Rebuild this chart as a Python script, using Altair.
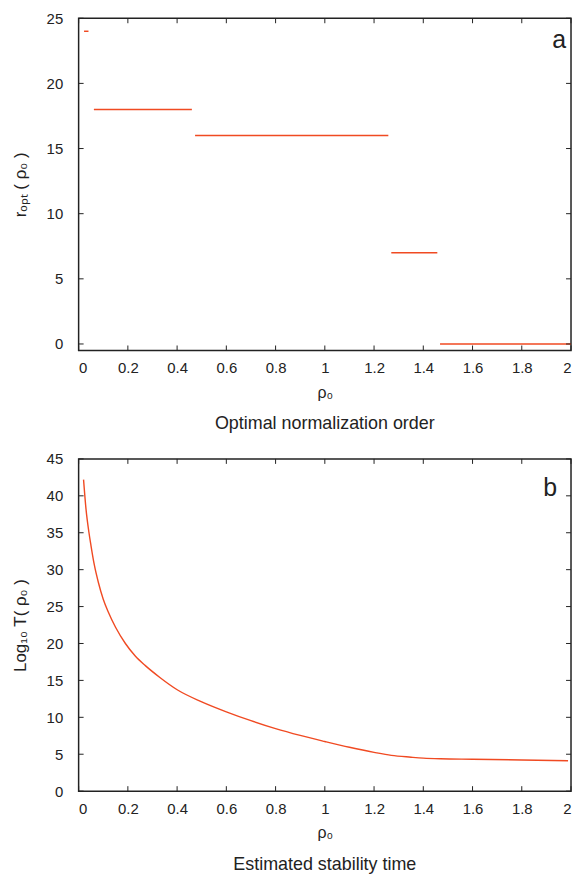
import altair as alt
import pandas as pd

# ---- data ----
# panel a: optimal normalization order, piecewise-constant segments
seg_start = [0.022, 0.062, 0.473, 1.270, 1.468]
seg_end = [0.040, 0.460, 1.258, 1.457, 2.000]
seg_r = [24, 18, 16, 7, 0]

# panel b: estimated stability time
rho = [0.02, 0.03, 0.0416, 0.05, 0.064, 0.08, 0.10, 0.12, 0.15, 0.19, 0.23,
       0.271, 0.33, 0.402, 0.50, 0.60, 0.70, 0.80, 0.90, 1.00, 1.10, 1.20,
       1.27, 1.35, 1.40, 1.47, 1.60, 1.80, 1.988]
log_t = [42.2, 38.2, 35.1, 33.3, 30.6, 28.3, 26.0, 24.3, 22.2, 20.0, 18.3,
         17.0, 15.4, 13.7, 12.1, 10.75, 9.55, 8.47, 7.55, 6.73, 5.95, 5.26,
         4.85, 4.60, 4.47, 4.38, 4.32, 4.22, 4.12]

x_ticks = [0, 0.2, 0.4, 0.6, 0.8, 1.0, 1.2, 1.4, 1.6, 1.8, 2.0]
ya_ticks = [0, 5, 10, 15, 20, 25]
yb_ticks = [0, 5, 10, 15, 20, 25, 30, 35, 40, 45]

LINE = "#f04a22"
INK = "#222222"
W, H = 495, 334
TICK = 5

seg_df = pd.DataFrame({"x0": seg_start, "x1": seg_end, "r": seg_r})
curve_df = pd.DataFrame({"rho": rho, "logT": log_t})
xt_df = pd.DataFrame({"v": x_ticks})


def xaxis():
    return alt.Axis(values=x_ticks, format="~g", title="ρ₀", labelFlush=True,
                    labelPadding=10, titlePadding=9, titleFontSize=16)


def yaxis(vals, title):
    return alt.Axis(values=vals, format="~g", title=title,
                    labelPadding=16, titlePadding=17, titleFontSize=17)


xscale = alt.Scale(domain=[0, 2], nice=False, zero=False)


def tick_layers(y_vals, yscale, ytitle):
    """Inward ticks on all four sides, placed by the chart's own scales."""
    yt_df = pd.DataFrame({"v": y_vals})
    rule = dict(color=INK, strokeWidth=1)
    xb = alt.Chart(xt_df).mark_rule(**rule).encode(
        x=alt.X("v:Q", scale=xscale, axis=xaxis()),
        y=alt.value(H - TICK), y2=alt.value(H))
    xt = alt.Chart(xt_df).mark_rule(**rule).encode(
        x=alt.X("v:Q", scale=xscale, axis=xaxis()),
        y=alt.value(0), y2=alt.value(TICK))
    yl = alt.Chart(yt_df).mark_rule(**rule).encode(
        y=alt.Y("v:Q", scale=yscale, axis=yaxis(y_vals, ytitle)),
        x=alt.value(0), x2=alt.value(TICK))
    yr = alt.Chart(yt_df).mark_rule(**rule).encode(
        y=alt.Y("v:Q", scale=yscale, axis=yaxis(y_vals, ytitle)),
        x=alt.value(W - TICK), x2=alt.value(W))
    return [xb, xt, yl, yr]


ya_scale = alt.Scale(domain=[-0.5, 25], nice=False)
yb_scale = alt.Scale(domain=[0, 45], nice=False)
ya_title = "rₒₚₜ ( ρ₀ )"
yb_title = "Log₁₀ T( ρ₀ )"

segs = alt.Chart(seg_df).mark_rule(color=LINE, strokeWidth=1.5).encode(
    x=alt.X("x0:Q", scale=xscale, axis=xaxis()),
    x2="x1:Q",
    y=alt.Y("r:Q", scale=ya_scale, axis=yaxis(ya_ticks, ya_title)),
)
lab_a = alt.Chart(pd.DataFrame({"t": ["a"]})).mark_text(
    fontSize=25, color=INK, align="center", baseline="alphabetic"
).encode(x=alt.value(W - 12), y=alt.value(30), text="t:N")

top = alt.layer(segs, *tick_layers(ya_ticks, ya_scale, ya_title), lab_a).properties(
    width=W, height=H,
    title=alt.TitleParams("Optimal normalization order", orient="bottom",
                          fontSize=18, fontWeight="normal", color=INK, offset=15),
)

curve = alt.Chart(curve_df).mark_line(color=LINE, strokeWidth=1.4,
                                      interpolate="monotone").encode(
    x=alt.X("rho:Q", scale=xscale, axis=xaxis()),
    y=alt.Y("logT:Q", scale=yb_scale, axis=yaxis(yb_ticks, yb_title)),
)
lab_b = alt.Chart(pd.DataFrame({"t": ["b"]})).mark_text(
    fontSize=25, color=INK, align="center", baseline="alphabetic"
).encode(x=alt.value(W - 21), y=alt.value(37), text="t:N")

bottom = alt.layer(curve, *tick_layers(yb_ticks, yb_scale, yb_title), lab_b).properties(
    width=W, height=H,
    title=alt.TitleParams("Estimated stability time", orient="bottom",
                          fontSize=18, fontWeight="normal", color=INK, offset=15),
)

PAD = {"left": 2, "top": 0, "right": 0, "bottom": 0}
chart = alt.vconcat(top, bottom, spacing=17).properties(
    padding=PAD
).configure(
    font="Liberation Sans",
    padding=PAD,
).configure_view(
    stroke=INK, strokeWidth=1.5,
).configure_axis(
    domain=False, ticks=False, grid=False,
    labelFontSize=15, labelColor=INK, labelFont="Liberation Sans",
    titleFontWeight="normal", titleColor=INK, titleFont="Liberation Sans",
)

chart.save("out.html", embed_options={"renderer": "svg", "actions": False})
